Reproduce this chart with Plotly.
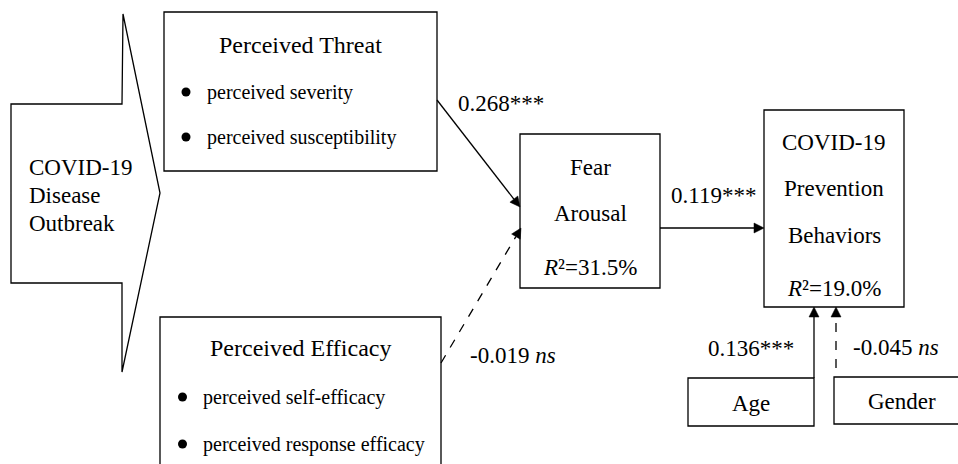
import numpy as np
import plotly.graph_objects as go

# ---------------- data ----------------
path_names = ["Threat->Fear", "Efficacy->Fear", "Fear->Behaviors", "Age->Behaviors", "Gender->Behaviors"]
path_coefs = [0.268, -0.019, 0.119, 0.136, -0.045]
path_sig = ["***", "ns", "***", "***", "ns"]
r2_values = [31.5, 19.0]  # Fear Arousal, Prevention Behaviors
threat_items = ["perceived severity", "perceived susceptibility"]
efficacy_items = ["perceived self-efficacy", "perceived response efficacy"]
outbreak_lines = ["COVID-19", "Disease", "Outbreak"]
behavior_lines = ["COVID-19", "Prevention", "Behaviors"]

# ---------------- layout geometry (diagram positions) ----------------
W, H = 958, 464
FONT = "Liberation Serif"
LW = 1.3

fig = go.Figure()
shapes = []
ann = []


def rect(x0, y0, x1, y1):
    shapes.append(dict(type="rect", x0=x0, y0=y0, x1=x1, y1=y1, xref="x", yref="y",
                       line=dict(color="black", width=LW), fillcolor="white", layer="above"))


def text(x, y, s, size=23, anchor="center"):
    ann.append(dict(x=x, y=y, xref="x", yref="y", text=s, showarrow=False,
                    xanchor=anchor, yanchor="middle",
                    font=dict(family=FONT, size=size, color="black")))


def arrow(p0, p1, dashed=False, L=10, hw=5):
    p0 = np.array(p0, float)
    p1 = np.array(p1, float)
    d = (p1 - p0) / np.linalg.norm(p1 - p0)
    n = np.array([-d[1], d[0]])
    base = p1 - d * L
    shapes.append(dict(type="line", x0=p0[0], y0=p0[1], x1=base[0], y1=base[1], xref="x", yref="y",
                       line=dict(color="black", width=LW, dash="dash" if dashed else "solid")))
    a = base + n * hw
    b = base - n * hw
    shapes.append(dict(type="path", xref="x", yref="y",
                       path=f"M {p1[0]},{p1[1]} L {a[0]},{a[1]} L {b[0]},{b[1]} Z",
                       fillcolor="black", line=dict(color="black", width=0.5)))


def label(i):
    c = f"{path_coefs[i]:.3f}"
    return c + path_sig[i] if path_sig[i] != "ns" else c + " <i>ns</i>"


# Outbreak arrow polygon
shapes.append(dict(type="path", xref="x", yref="y",
                   path="M 11,104 L 122,104 L 123,14 L 160,193 L 122,372 L 122,283 L 11,283 Z",
                   line=dict(color="black", width=LW), fillcolor="white"))
for k, s in enumerate(outbreak_lines):
    text(27, 167 + 28 * k, s, anchor="left")

# Perceived Threat box
rect(164, 12, 437, 171)
text(300, 45, "Perceived Threat", size=24)
for k, s in enumerate(threat_items):
    y = 92 + 45 * k
    shapes.append(dict(type="circle", xref="x", yref="y", x0=181.5, x1=190.5, y0=y - 4.5, y1=y + 4.5,
                       fillcolor="black", line=dict(color="black", width=0)))
    text(205, y, s, size=20, anchor="left")

# Perceived Efficacy box
rect(160, 317, 441, 480)
text(300, 348, "Perceived Efficacy", size=24)
for k, s in enumerate(efficacy_items):
    y = 397 + 47 * k
    shapes.append(dict(type="circle", xref="x", yref="y", x0=178, x1=187, y0=y - 4.5, y1=y + 4.5,
                       fillcolor="black", line=dict(color="black", width=0)))
    text(201, y, s, size=20, anchor="left")

# Fear Arousal box
rect(520, 134, 660, 288)
text(590, 167, "Fear")
text(590, 213, "Arousal")
text(590, 267, f"<i>R</i>²={r2_values[0]:.1f}%")

# Prevention behaviors box
rect(764, 110, 904, 307)
for k, s in enumerate(behavior_lines):
    text(834, 142 + 46.5 * k, s)
text(834, 288, f"<i>R</i>²={r2_values[1]:.1f}%")

# Age and Gender boxes
rect(688, 378, 814, 426)
text(751, 403, "Age")
rect(834, 377, 962, 424)
text(902, 401, "Gender")

# Paths
arrow((437, 100), (520, 207), dashed=path_sig[0] == "ns")
text(456, 103, label(0), anchor="left")
arrow((441, 363), (521, 228), dashed=path_sig[1] == "ns")
text(468, 355, label(1), anchor="left")
arrow((660, 228), (764, 228), dashed=path_sig[2] == "ns")
text(713, 195, label(2))
arrow((814, 378), (814, 307), dashed=path_sig[3] == "ns")
text(751, 348, label(3))
arrow((836, 368), (836, 307), dashed=path_sig[4] == "ns")
text(896, 347, label(4))

fig.update_layout(
    width=W, height=H, margin=dict(l=0, r=0, t=0, b=0),
    plot_bgcolor="white", paper_bgcolor="white",
    xaxis=dict(range=[0, W], visible=False, fixedrange=True),
    yaxis=dict(range=[H, 0], visible=False, fixedrange=True),
    shapes=shapes, annotations=ann, showlegend=False,
)
fig.write_html("out.html", config={"displayModeBar": False},
               post_script="document.body.style.margin='0';document.body.style.overflow='hidden';")
